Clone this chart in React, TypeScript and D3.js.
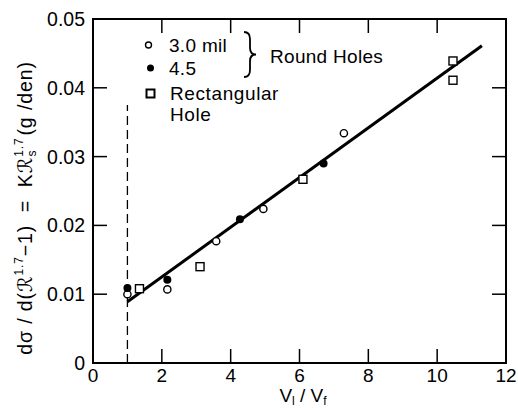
import React from "react";
import * as d3 from "d3";

// 3.0 mil round holes (open circles)
const openX = [1.0, 2.16, 3.58, 4.95, 7.29];
const openY = [0.01, 0.0107, 0.0177, 0.0224, 0.0334];
// 4.5 mil round holes (filled circles)
const filledX = [1.0, 2.16, 4.27, 6.7];
const filledY = [0.0109, 0.0121, 0.0209, 0.029];
// rectangular hole (open squares)
const rectX = [1.35, 3.11, 6.1, 10.46, 10.46];
const rectY = [0.0108, 0.014, 0.0267, 0.0439, 0.0411];
// fitted straight line
const fitX = [1.0, 11.3];
const fitY = [0.0089, 0.0461];
// dashed reference line at Vl/Vf = 1
const refX = 1.0;
const refY = [0, 0.0375];

const xTicks = [0, 2, 4, 6, 8, 10, 12];
const yTicks = [0, 0.01, 0.02, 0.03, 0.04, 0.05];
const yTickLabels = ["0", "0.01", "0.02", "0.03", "0.04", "0.05"];

const W = 518;
const H = 410;
const left = 93;
const right = 506;
const top = 19;
const bottom = 363;
const FONT = "'Liberation Sans', Arial, sans-serif";
const NB = "\u00A0";

export default function App() {
  const x = d3.scaleLinear().domain([0, 12]).range([left, right]);
  const y = d3.scaleLinear().domain([0, 0.05]).range([bottom, top]);

  const line = d3
    .line<number>()
    .x((_, i) => x(fitX[i]))
    .y((d) => y(d));

  const inner = [0.01, 0.02, 0.03, 0.04];
  const innerX = [2, 4, 6, 8, 10];
  const tickLen = 14;

  return (
    <svg
      width={W}
      height={H}
      style={{ position: "absolute", left: 0, top: 0, background: "#fff" }}
      fontFamily={FONT}
    >
      <rect x={0} y={0} width={W} height={H} fill="#fff" />
      {/* frame */}
      <rect
        x={left}
        y={top}
        width={right - left}
        height={bottom - top}
        fill="none"
        stroke="#000"
        strokeWidth={2}
      />
      {/* ticks */}
      {innerX.map((t) => (
        <g key={"xt" + t} stroke="#000" strokeWidth={1.5}>
          <line x1={x(t)} x2={x(t)} y1={bottom} y2={bottom - tickLen} />
          <line x1={x(t)} x2={x(t)} y1={top} y2={top + tickLen} />
        </g>
      ))}
      {inner.map((t) => (
        <g key={"yt" + t} stroke="#000" strokeWidth={1.5}>
          <line x1={left} x2={left + tickLen} y1={y(t)} y2={y(t)} />
          <line x1={right} x2={right - tickLen} y1={y(t)} y2={y(t)} />
        </g>
      ))}
      {/* tick labels */}
      {xTicks.map((t) => (
        <text
          key={"xl" + t}
          x={x(t)}
          y={382}
          fontSize={19}
          textAnchor="middle"
          fill="#000"
        >
          {t}
        </text>
      ))}
      {yTicks.map((t, i) => (
        <text
          key={"yl" + t}
          x={85}
          y={y(t) + 7}
          fontSize={19.5}
          textAnchor="end"
          fill="#000"
        >
          {yTickLabels[i]}
        </text>
      ))}
      {/* axis titles */}
      <text x={303} y={402} fontSize={19} textAnchor="middle" fill="#000">
        V<tspan fontSize={12} dy={2.5}>l</tspan>
        <tspan dy={-2.5}>{NB}/{NB}V</tspan>
        <tspan fontSize={12} dy={2.5}>f</tspan>
      </text>
      <text
        transform="translate(32,208) rotate(-90)"
        fontSize={19.5}
        textAnchor="middle"
        fill="#000"
        letterSpacing={0.9}
      >
        {`dσ${NB}/${NB}d(`}
        <tspan fontFamily="'DejaVu Sans', sans-serif">ℛ</tspan>
        <tspan fontSize={12} dy={-9}>1.7</tspan>
        <tspan dy={9}>{`−1)${NB}${NB}=${NB}${NB}K`}</tspan>
        <tspan fontFamily="'DejaVu Sans', sans-serif">ℛ</tspan>
        <tspan fontSize={12} dy={-9}>1.7</tspan>
        <tspan fontSize={12} dx={-19} dy={13}>s</tspan>
        <tspan dx={14} dy={-4}>{`(g${NB}/den)`}</tspan>
      </text>
      {/* dashed reference line */}
      <line
        x1={x(refX)}
        x2={x(refX)}
        y1={y(refY[0])}
        y2={y(refY[1])}
        stroke="#000"
        strokeWidth={1.3}
        strokeDasharray="9 5"
      />
      {/* fitted line */}
      <path d={line(fitY) || ""} fill="none" stroke="#000" strokeWidth={3} />
      {/* data points */}
      {openX.map((v, i) => (
        <circle
          key={"o" + i}
          cx={x(v)}
          cy={y(openY[i])}
          r={3.6}
          fill="#fff"
          stroke="#000"
          strokeWidth={1.4}
        />
      ))}
      {filledX.map((v, i) => (
        <circle key={"f" + i} cx={x(v)} cy={y(filledY[i])} r={4} fill="#000" />
      ))}
      {rectX.map((v, i) => (
        <rect
          key={"r" + i}
          x={x(v) - 4}
          y={y(rectY[i]) - 4}
          width={8}
          height={8}
          fill="#fff"
          stroke="#000"
          strokeWidth={1.4}
        />
      ))}
      {/* legend */}
      <circle cx={148.5} cy={45} r={3} fill="#fff" stroke="#000" strokeWidth={1.4} />
      <circle cx={150.5} cy={68} r={3.5} fill="#000" />
      <rect
        x={146.5}
        y={89.5}
        width={8}
        height={8}
        fill="#fff"
        stroke="#000"
        strokeWidth={2}
      />
      <text x={169} y={52} fontSize={19} fill="#000" letterSpacing={0.3}>
        3.0 mil
      </text>
      <text x={169} y={75} fontSize={19} fill="#000" letterSpacing={0.3}>
        4.5
      </text>
      <text x={170} y={100} fontSize={19} fill="#000" letterSpacing={0.6}>
        Rectangular
      </text>
      <text x={170} y={121} fontSize={19} fill="#000" letterSpacing={0.6}>
        Hole
      </text>
      <path
        d="M244,32 Q250,32 250,39 L250,48 Q250,54.5 256,54.5 Q250,54.5 250,61 L250,70 Q250,77 244,77"
        fill="none"
        stroke="#000"
        strokeWidth={1.8}
      />
      <text x={270} y={63} fontSize={19} fill="#000" letterSpacing={0.3}>
        Round Holes
      </text>
    </svg>
  );
}
